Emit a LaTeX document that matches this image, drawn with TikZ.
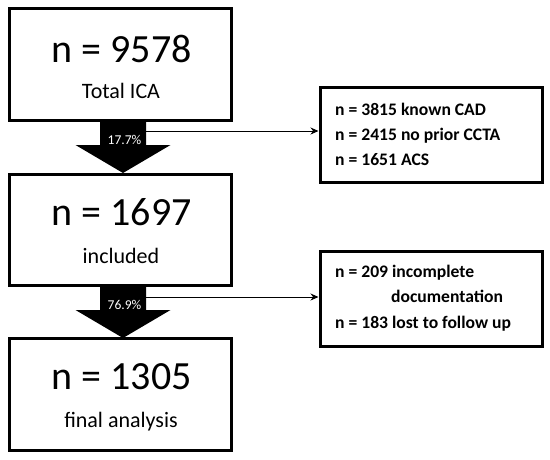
\documentclass[tikz,border=0pt]{standalone}
\usepackage{fontspec}
\setmainfont{Carlito}
\usetikzlibrary{arrows.meta}

\begin{document}
\begin{tikzpicture}[x=1pt,y=-1pt,
  box/.style={draw,line width=3pt,minimum width=222pt,minimum height=112pt,inner sep=0pt},
  sidebox/.style={draw,line width=3pt,minimum width=222.5pt,minimum height=95pt,inner sep=0pt},
  bignum/.style={font=\fontsize{40}{48}\selectfont,anchor=base,inner sep=0pt},
  caption/.style={font=\fontsize{22}{26}\selectfont,anchor=base,inner sep=0pt},
  pct/.style={text=white,font=\fontsize{13.5}{16}\selectfont,anchor=base,inner sep=0pt},
  sidetext/.style={font=\bfseries\fontsize{17.6}{21}\selectfont,anchor=base west,inner sep=0pt},
  link/.style={-{Stealth[length=8pt,width=7pt]},line width=1pt}]
  \useasboundingbox (0,0) rectangle (550,459);
  % block arrows between the main boxes
  \fill (100,120.5) -- (146,120.5) -- (146,145) -- (170.5,145) -- (123,173)
    -- (75.5,145) -- (100,145) -- cycle;
  \fill (100,285.5) -- (146,285.5) -- (146,310) -- (170.5,310) -- (123,338)
    -- (75.5,310) -- (100,310) -- cycle;
  \node[pct] (p1) at (124.5,144.5) {17.7\%};
  \node[pct] (p2) at (124.5,309.5) {76.9\%};
  % main boxes
  \node[box] (total) at (120.5,64.5) {};
  \node[bignum] at (121.5,62) {n = 9578};
  \node[caption] at (121,98) {Total ICA};
  \node[box,minimum height=111pt] (incl) at (120.5,230) {};
  \node[bignum] at (121.5,225) {n = 1697};
  \node[caption] at (121,263) {included};
  \node[box] (final) at (120.5,394.5) {};
  \node[bignum] at (121.5,389) {n = 1305};
  \node[caption] at (121,427) {final analysis};
  % exclusion boxes
  \node[sidebox] (excl) at (431.25,135) {};
  \node[sidetext] at (335,115) {n = 3815 known CAD};
  \node[sidetext] at (335,140) {n = 2415 no prior CCTA};
  \node[sidetext] at (335,165) {n = 1651 ACS};
  \node[sidebox,minimum height=95.5pt] (lost) at (431.25,298.75) {};
  \node[sidetext] at (335,277) {n = 209 incomplete};
  \node[sidetext] at (391,302) {documentation};
  \node[sidetext] at (335,328) {n = 183 lost to follow up};
  % connectors
  \coordinate (c1) at (146,131);
  \coordinate (c2) at (146,297);
  \draw[link] (c1) -- (c1 -| excl.west);
  \draw[link] (c2) -- (c2 -| lost.west);
\end{tikzpicture}
\end{document}
